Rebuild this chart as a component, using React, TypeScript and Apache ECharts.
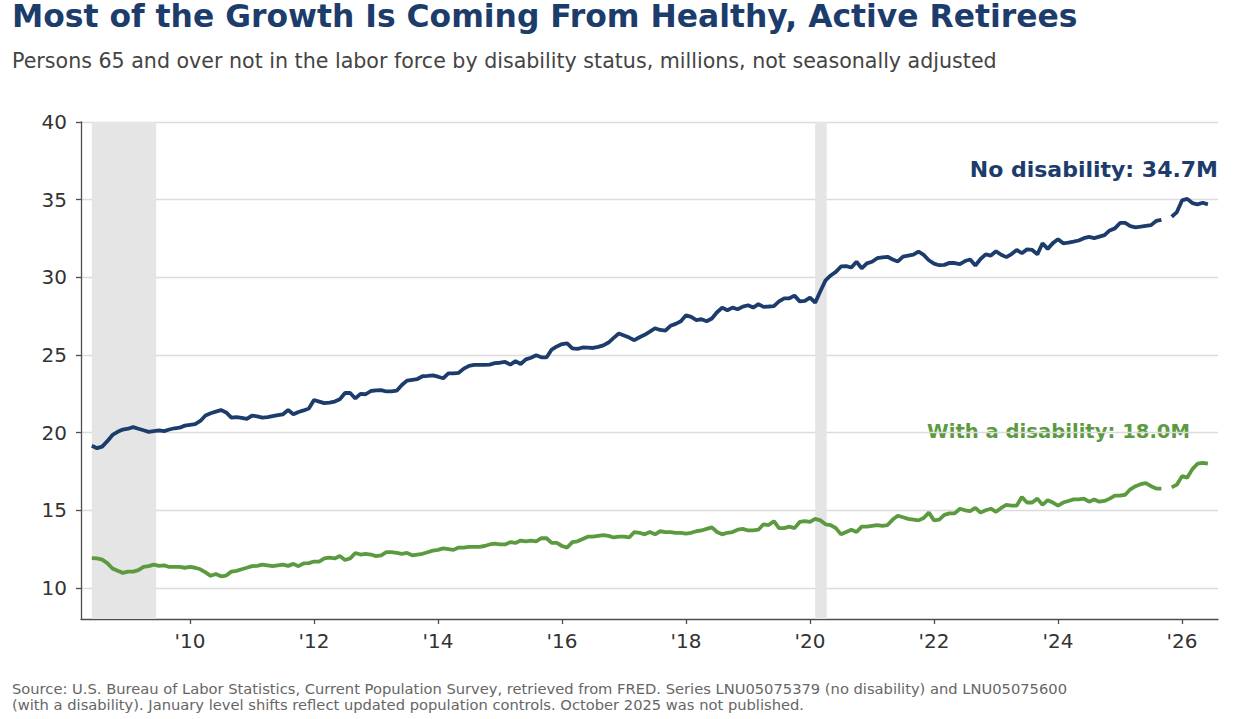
import React, { useEffect, useRef } from "react";
import * as echarts from "echarts";

// Monthly series, starting June 2008; October 2025 was not published (null).
const START_YEAR = 2008;
const START_MONTH = 6;

const noDisability: (number | null)[] = [
  19.15, 19.0, 19.1, 19.45, 19.85, 20.05, 20.2,
  20.25, 20.35, 20.25, 20.15, 20.05, 20.1, 20.15, 20.1, 20.2, 20.28, 20.32, 20.45,
  20.5, 20.55, 20.75, 21.1, 21.25, 21.35, 21.45, 21.3, 20.97, 21.0, 20.95, 20.88,
  21.1, 21.05, 20.97, 21.0, 21.06, 21.12, 21.18, 21.46, 21.18, 21.33, 21.43, 21.55,
  22.1, 22.0, 21.9, 21.93, 22.0, 22.15, 22.55, 22.55, 22.2, 22.5, 22.47, 22.68,
  22.72, 22.74, 22.65, 22.66, 22.7, 23.07, 23.35, 23.4, 23.45, 23.63, 23.65, 23.68,
  23.6, 23.5, 23.82, 23.82, 23.85, 24.12, 24.3, 24.36, 24.36, 24.36, 24.38, 24.47,
  24.5, 24.55, 24.38, 24.6, 24.42, 24.72, 24.82, 24.98, 24.85, 24.84, 25.35, 25.55,
  25.7, 25.75, 25.43, 25.39, 25.48, 25.47, 25.45, 25.52, 25.62, 25.8, 26.1, 26.38,
  26.25, 26.12, 25.95, 26.14, 26.3, 26.5, 26.72, 26.61, 26.57, 26.88, 27.0, 27.17,
  27.55, 27.45, 27.25, 27.3, 27.17, 27.35, 27.75, 28.05, 27.88, 28.05, 27.94, 28.11,
  28.2, 28.05, 28.27, 28.1, 28.12, 28.15, 28.45, 28.65, 28.65, 28.82, 28.45, 28.48,
  28.69, 28.37, 29.1, 29.8, 30.12, 30.35, 30.7, 30.72, 30.63, 31.0, 30.58, 30.9,
  31.0, 31.23, 31.29, 31.32, 31.15, 31.02, 31.33, 31.4, 31.46, 31.66, 31.44, 31.1,
  30.88, 30.78, 30.8, 30.93, 30.92, 30.85, 31.05, 31.15, 30.76, 31.18, 31.48, 31.4,
  31.68, 31.45, 31.3, 31.5, 31.76, 31.55, 31.8, 31.76, 31.48, 32.19, 31.83, 32.2,
  32.45, 32.19, 32.24, 32.3, 32.37, 32.52, 32.6, 32.52, 32.62, 32.72, 33.02, 33.15,
  33.5, 33.5, 33.3, 33.22, 33.26, 33.31, 33.36, 33.63, 33.7, null, 33.9, 34.2,
  34.95, 35.05, 34.78, 34.7, 34.8, 34.7,
];

const withDisability: (number | null)[] = [
  11.92, 11.9, 11.82, 11.6, 11.25, 11.1, 10.97,
  11.05, 11.05, 11.15, 11.35, 11.4, 11.5, 11.42, 11.45, 11.35, 11.35, 11.35, 11.3,
  11.35, 11.3, 11.2, 11.0, 10.78, 10.9, 10.75, 10.8, 11.05, 11.1, 11.2, 11.3,
  11.4, 11.42, 11.5, 11.45, 11.4, 11.45, 11.5, 11.42, 11.55, 11.4, 11.58, 11.6,
  11.7, 11.7, 11.9, 11.95, 11.9, 12.05, 11.8, 11.9, 12.25, 12.15, 12.2, 12.15,
  12.05, 12.1, 12.3, 12.3, 12.25, 12.2, 12.25, 12.1, 12.15, 12.2, 12.3, 12.4,
  12.45, 12.55, 12.5, 12.45, 12.6, 12.6, 12.65, 12.65, 12.65, 12.7, 12.8, 12.85,
  12.8, 12.8, 12.95, 12.9, 13.05, 13.0, 13.05, 13.0, 13.2, 13.2, 12.9, 12.9,
  12.7, 12.6, 12.95, 13.0, 13.15, 13.3, 13.3, 13.35, 13.4, 13.35, 13.25, 13.3,
  13.3, 13.25, 13.6, 13.55, 13.45, 13.6, 13.45, 13.65, 13.6, 13.6, 13.55, 13.55,
  13.5, 13.55, 13.65, 13.7, 13.8, 13.9, 13.6, 13.45, 13.55, 13.6, 13.75, 13.8,
  13.7, 13.7, 13.75, 14.1, 14.05, 14.3, 13.85, 13.85, 13.95, 13.85, 14.25, 14.3,
  14.25, 14.45, 14.35, 14.1, 14.05, 13.85, 13.45, 13.6, 13.75, 13.6, 13.95, 13.95,
  14.0, 14.05, 14.0, 14.05, 14.4, 14.65, 14.55, 14.45, 14.4, 14.35, 14.5, 14.85,
  14.35, 14.4, 14.7, 14.8, 14.8, 15.1, 15.0, 14.95, 15.15, 14.85, 15.0, 15.1,
  14.9, 15.15, 15.35, 15.3, 15.3, 15.85, 15.5, 15.5, 15.75, 15.35, 15.65, 15.5,
  15.3, 15.5, 15.6, 15.7, 15.7, 15.75, 15.55, 15.7, 15.55, 15.6, 15.75, 15.95,
  15.95, 16.0, 16.35, 16.55, 16.68, 16.75, 16.55, 16.4, 16.4, null, 16.47, 16.65,
  17.2, 17.1, 17.65, 18.0, 18.05, 18.0,
];

// Shaded periods, in decimal years: [start, end]
const shadedPeriods: [number, number][] = [
  [2008.417, 2009.455],
  [2020.083, 2020.27],
];

const xTickYears = [2010, 2012, 2014, 2016, 2018, 2020, 2022, 2024, 2026];
const yTickValues = [10, 15, 20, 25, 30, 35, 40];

const NAVY = "#1c3c6c";
const GREEN = "#5b9a3e";
const FONT = "DejaVu Sans";

const toPairs = (vals: (number | null)[]) =>
  vals.map((v, i) => [
    START_YEAR + (START_MONTH - 1 + i) / 12,
    v === null ? null : v,
  ]);

export default function App() {
  const ref = useRef<HTMLDivElement>(null);

  useEffect(() => {
    if (!ref.current) return;
    const chart = echarts.init(ref.current, null, { renderer: "svg" });

    const option: any = {
      animation: false,
      backgroundColor: "#ffffff",
      textStyle: { fontFamily: FONT },
      grid: { left: 81, right: 32, top: 122, bottom: 100, containLabel: false },
      xAxis: {
        type: "value",
        min: 2008.242,
        max: 2026.58,
        axisLine: { show: true, lineStyle: { color: "#4d4d4d", width: 1.3 } },
        axisTick: {
          show: true,
          length: 5,
          customValues: xTickYears,
          lineStyle: { color: "#4d4d4d", width: 1.3 },
        },
        axisLabel: {
          customValues: xTickYears,
          formatter: (v: number) => "'" + String(Math.round(v)).slice(2),
          color: "#333333",
          fontSize: 20,
          fontFamily: FONT,
          margin: 12,
        },
        splitLine: { show: false },
      },
      yAxis: {
        type: "value",
        min: 8,
        max: 40,
        axisLine: { show: true, lineStyle: { color: "#4d4d4d", width: 1.3 } },
        axisTick: {
          show: true,
          length: 5,
          customValues: yTickValues,
          lineStyle: { color: "#4d4d4d", width: 1.3 },
        },
        axisLabel: {
          customValues: yTickValues,
          color: "#333333",
          fontSize: 20,
          fontFamily: FONT,
          margin: 14,
        },
        splitLine: { show: true, lineStyle: { color: "#dcdcdc", width: 1.3 } },
      },
      series: [
        {
          name: "No disability",
          type: "line",
          data: toPairs(noDisability),
          showSymbol: false,
          connectNulls: false,
          lineStyle: { color: NAVY, width: 3.8 },
          itemStyle: { color: NAVY },
          z: 3,
          markArea: {
            silent: true,
            itemStyle: { color: "#e5e5e5" },
            data: shadedPeriods.map(([a, b]) => [{ xAxis: a }, { xAxis: b }]),
          },
        },
        {
          name: "With a disability",
          type: "line",
          data: toPairs(withDisability),
          showSymbol: false,
          connectNulls: false,
          lineStyle: { color: GREEN, width: 3.8 },
          itemStyle: { color: GREEN },
          z: 3,
        },
      ],
      graphic: [
        {
          type: "text",
          left: 12,
          top: 0,
          style: {
            text: "Most of the Growth Is Coming From Healthy, Active Retirees",
            fill: "#1c3c6c",
            font: `bold 31.4px '${FONT}'`,
          },
        },
        {
          type: "text",
          left: 12,
          top: 50,
          style: {
            text:
              "Persons 65 and over not in the labor force by disability status, millions, not seasonally adjusted",
            fill: "#444444",
            font: `20.6px '${FONT}'`,
          },
        },
        {
          type: "text",
          right: 32,
          top: 158,
          style: {
            text: "No disability: 34.7M",
            fill: NAVY,
            font: `bold 22px '${FONT}'`,
          },
        },
        {
          type: "text",
          right: 60,
          top: 421,
          style: {
            text: "With a disability: 18.0M",
            fill: GREEN,
            font: `bold 19.6px '${FONT}'`,
          },
        },
        {
          type: "text",
          left: 12,
          top: 680,
          style: {
            text:
              "Source: U.S. Bureau of Labor Statistics, Current Population Survey, retrieved from FRED. Series LNU05075379 (no disability) and LNU05075600\n(with a disability). January level shifts reflect updated population controls. October 2025 was not published.",
            fill: "#666666",
            font: `14.7px '${FONT}'`,
            lineHeight: 16.5,
          },
        },
      ],
    };

    chart.setOption(option);
    return () => chart.dispose();
  }, []);

  return (
    <div
      ref={ref}
      style={{ position: "fixed", left: 0, top: 0, width: 1250, height: 719 }}
    />
  );
}
